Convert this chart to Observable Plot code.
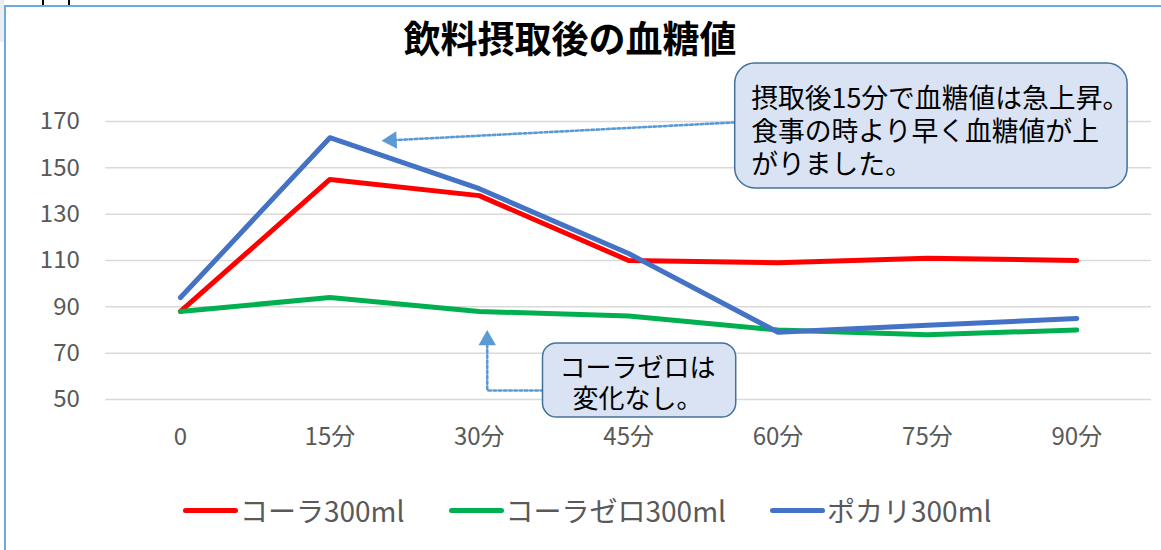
<!DOCTYPE html>
<html>
<head>
<meta charset="utf-8">
<script src="https://cdn.jsdelivr.net/npm/d3@7"></script>
<script src="https://cdn.jsdelivr.net/npm/@observablehq/plot@0.6"></script>
<style>
  html, body { margin: 0; padding: 0; background: #fff; }
  #wrap { position: relative; width: 1161px; height: 550px; overflow: hidden; font-family: "Noto Sans CJK JP", sans-serif; }
  #frame { position: absolute; left: 4px; top: 5px; right: -10px; bottom: -10px; border-left: 2px solid #6FA8DC; border-top: 2px solid #6FA8DC; }
  #corner { position: absolute; left: 0; top: 0; width: 4px; height: 42px; background: #e9eef5; }
  .tick { position: absolute; top: 0; width: 2px; height: 6px; background: #000; }
  #title { position: absolute; left: 0; top: 19px; width: 1140px; text-align: center; font-size: 37px; font-weight: bold; line-height: 1; color: #000; }
  #chart { position: absolute; left: 0; top: 0; }
  #legend { position: absolute; left: 183px; top: 494px; height: 32px; display: flex; align-items: center; gap: 44px; color: #595959; font-size: 28px; }
  .item { display: flex; align-items: center; }
  .sw { width: 55px; height: 5px; border-radius: 3px; margin-right: 2px; }
</style>
</head>
<body>
<div id="wrap">
  <div id="corner"></div>
  <div class="tick" style="left:42px"></div>
  <div class="tick" style="left:68px"></div>
  <div id="frame"></div>
  <div id="chart"></div>
  <div id="title">飲料摂取後の血糖値</div>
  <div id="legend"></div>
</div>
<script>
// ---- data ----
const times = [0, 15, 30, 45, 60, 75, 90];
const cola = [88, 145, 138, 110, 109, 111, 110];
const colaZero = [88, 94, 88, 86, 80, 78, 80];
const pocari = [94, 163, 141, 113, 79, 82, 85];
const seriesNames = ["コーラ300ml", "コーラゼロ300ml", "ポカリ300ml"];
const seriesColors = ["#FF0000", "#00B050", "#4472C4"];
const yTicks = [50, 70, 90, 110, 130, 150, 170];
const xTickLabels = ["0", "15分", "30分", "45分", "60分", "75分", "90分"];

// annotations (in data units)
const note1Text = "摂取後15分で血糖値は急上昇。\n食事の時より早く血糖値が上\nがりました。";
const note2Text = "コーラゼロは\n変化なし。";
const note1Box = [{x1: 55.7, x2: 95.1, y1: 141.1, y2: 195.0}];
const note2Box = [{x1: 36.4, x2: 55.8, y1: 42.2, y2: 74.2}];
const note1Label = [{x: 57.3, y: 166.1}];
const note2Label = [{x: 45.9, y: 57.1}];
const arrow1Path = [{x: 55.6, y: 169.6}, {x: 21.2, y: 161.9}];
const arrow1Head = [{x: 21.2, y: 161.9}];
const arrow2Path = [{x: 36.4, y: 53.9}, {x: 30.8, y: 53.9}, {x: 30.8, y: 75.6}];
const arrow2Head = [{x: 30.8, y: 75.6}];

const seriesValues = [cola, colaZero, pocari];
const rows = seriesNames.flatMap((s, i) => times.map((t, j) => ({series: s, t, v: seriesValues[i][j]})));

const plot = Plot.plot({
  width: 1161,
  height: 550,
  marginLeft: 105.3,
  marginRight: 10,
  marginTop: 121,
  marginBottom: 151,
  style: {background: "transparent", color: "#595959", fontFamily: "'Noto Sans CJK JP', sans-serif", overflow: "visible"},
  x: {domain: [-7.5, 97.5]},
  y: {domain: [50, 170]},
  color: {domain: seriesNames, range: seriesColors},
  marks: [
    Plot.gridY(yTicks, {stroke: "#D9D9D9", strokeOpacity: 1, strokeWidth: 1.5}),
    Plot.axisY({ticks: yTicks, tickSize: 0, tickPadding: 26, fontSize: 24, label: null}),
    Plot.axisX({ticks: times, tickFormat: (d) => xTickLabels[times.indexOf(d)], tickSize: 0, tickPadding: 28, fontSize: 24, label: null}),
    Plot.line(rows, {x: "t", y: "v", z: "series", stroke: "series", strokeWidth: 5, strokeLinejoin: "round", strokeLinecap: "round"}),
    // callout 1
    Plot.line(arrow1Path, {x: "x", y: "y", stroke: "#5B9BD5", strokeWidth: 2.6, strokeDasharray: "2.6,2.6"}),
    Plot.dot(arrow1Head, {x: "x", y: "y", symbol: "triangle", r: 6.5, fill: "#5B9BD5", stroke: null, rotate: -92.9}),
    Plot.rect(note1Box, {x1: "x1", x2: "x2", y1: "y1", y2: "y2", fill: "#DAE3F3", stroke: "#41719C", strokeWidth: 1.5, rx: 20}),
    Plot.text(note1Label, {x: "x", y: "y", text: () => note1Text, textAnchor: "start", lineAnchor: "middle", lineHeight: 1.22, fontSize: 26.8, fill: "#000"}),
    // callout 2
    Plot.line(arrow2Path, {x: "x", y: "y", stroke: "#5B9BD5", strokeWidth: 2.6, strokeDasharray: "2.6,2.6"}),
    Plot.dot(arrow2Head, {x: "x", y: "y", symbol: "triangle", r: 6.5, fill: "#5B9BD5", stroke: null}),
    Plot.rect(note2Box, {x1: "x1", x2: "x2", y1: "y1", y2: "y2", fill: "#DAE3F3", stroke: "#41719C", strokeWidth: 1.5, rx: 14}),
    Plot.text(note2Label, {x: "x", y: "y", text: () => note2Text, textAnchor: "middle", lineAnchor: "middle", lineHeight: 1.19, fontSize: 26, fill: "#000"})
  ]
});
document.getElementById("chart").appendChild(plot);

const legend = document.getElementById("legend");
seriesNames.forEach((s, i) => {
  const item = document.createElement("div");
  item.className = "item";
  const sw = document.createElement("div");
  sw.className = "sw";
  sw.style.background = seriesColors[i];
  const lab = document.createElement("span");
  lab.textContent = s;
  item.appendChild(sw);
  item.appendChild(lab);
  legend.appendChild(item);
});
</script>
</body>
</html>
